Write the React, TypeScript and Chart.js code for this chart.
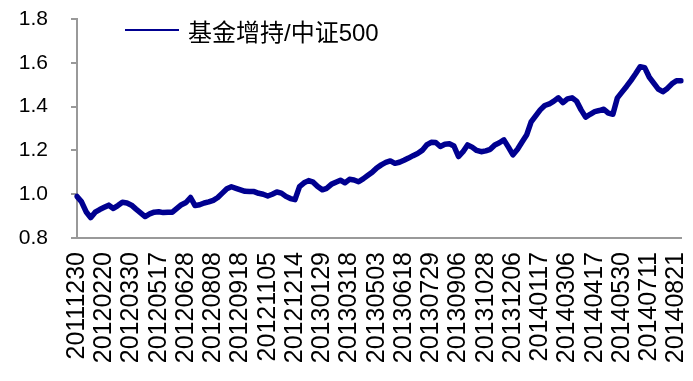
import React, { useEffect, useRef } from "react";
import { Chart, registerables } from "chart.js";

Chart.register(...registerables);

const tickLabels: string[] = [
  "20111230", "20120220", "20120330", "20120517", "20120628", "20120808",
  "20120918", "20121105", "20121214", "20130129", "20130318", "20130503",
  "20130618", "20130729", "20130906", "20131028", "20131206", "20140117",
  "20140306", "20140417", "20140530", "20140711", "20140821",
];

const seriesName = "基金增持/中证500";

// weekly samples (every ~5 trading days), 6 samples between tick labels
const ratioValues: number[] = [
  0.99, 0.965, 0.92, 0.893, 0.918, 0.93, 0.94, 0.95, 0.935, 0.948,
  0.963, 0.96, 0.95, 0.932, 0.915, 0.898, 0.91, 0.918, 0.92, 0.916,
  0.918, 0.918, 0.935, 0.952, 0.962, 0.985, 0.948, 0.952, 0.96, 0.965,
  0.972, 0.985, 1.005, 1.025, 1.034, 1.027, 1.02, 1.013, 1.012, 1.012,
  1.004, 1.0, 0.992, 1.0, 1.01, 1.005, 0.99, 0.98, 0.975, 1.035,
  1.052, 1.062, 1.055, 1.035, 1.02, 1.027, 1.045, 1.055, 1.064, 1.052,
  1.068, 1.065, 1.057, 1.07, 1.085, 1.1, 1.12, 1.134, 1.145, 1.152,
  1.141, 1.146, 1.155, 1.165, 1.176, 1.186, 1.2, 1.225, 1.237, 1.236,
  1.218, 1.228, 1.23, 1.22, 1.172, 1.194, 1.225, 1.215, 1.2, 1.194,
  1.198, 1.205, 1.225, 1.235, 1.248, 1.215, 1.18, 1.205, 1.238, 1.27,
  1.33, 1.358, 1.385, 1.405, 1.412, 1.425, 1.44, 1.418, 1.435, 1.44,
  1.425, 1.385, 1.352, 1.365, 1.377, 1.382, 1.388, 1.37, 1.365, 1.44,
  1.466, 1.492, 1.52, 1.55, 1.582, 1.578, 1.535, 1.507, 1.48, 1.468,
  1.483, 1.504, 1.518, 1.518,
];

const samplesPerTick = 6;
const yMin = 0.8;
const yMax = 1.8;
const yStep = 0.2;

const LINE_COLOR = "#000090";
const AXIS_COLOR = "#999999";
const FONT = "'Liberation Sans', Arial, 'Noto Sans CJK SC', sans-serif";

export default function App() {
  const canvasRef = useRef<HTMLCanvasElement | null>(null);

  useEffect(() => {
    document.body.style.margin = "0";
    const canvas = canvasRef.current;
    if (!canvas) return;
    const labels = ratioValues.map((_, i) =>
      i % samplesPerTick === 0 ? tickLabels[i / samplesPerTick] ?? "" : ""
    );
    const chart = new Chart(canvas, {
      type: "line",
      data: {
        labels,
        datasets: [
          {
            label: seriesName,
            data: ratioValues,
            borderColor: LINE_COLOR,
            backgroundColor: LINE_COLOR,
            borderWidth: 5.5,
            pointRadius: 0,
            tension: 0,
            borderJoinStyle: "round",
            borderCapStyle: "round",
          },
        ],
      },
      options: {
        animation: false,
        responsive: false,
        maintainAspectRatio: false,
        layout: { padding: { top: 19, right: 12, left: 0, bottom: 0 } },
        plugins: {
          legend: { display: false },
          tooltip: { enabled: false },
        },
        scales: {
          x: {
            type: "category",
            offset: false,
            grid: {
              display: true,
              drawOnChartArea: false,
              drawTicks: false,
            },
            border: { display: true, color: AXIS_COLOR, width: 2 },
            ticks: {
              autoSkip: false,
              minRotation: 90,
              maxRotation: 90,
              padding: 14,
              color: "#000",
              font: { family: FONT, size: 25 },
              callback: (_v: any, i: number) => labels[i],
            },
            afterFit: (scale: any) => {
              scale.height = 143;
              scale.paddingLeft = 0;
              scale.paddingRight = 0;
            },
          },
          y: {
            min: yMin,
            max: yMax,
            grid: {
              display: true,
              drawOnChartArea: false,
              drawTicks: true,
              tickLength: 6,
              color: AXIS_COLOR,
              lineWidth: 2,
            },
            border: { display: true, color: AXIS_COLOR, width: 2 },
            ticks: {
              stepSize: yStep,
              padding: 23,
              color: "#000",
              font: { family: FONT, size: 21 },
              callback: (v: any) => Number(v).toFixed(1),
            },
            afterFit: (scale: any) => {
              scale.width = 77;
              scale.paddingTop = 0;
              scale.paddingBottom = 0;
            },
          },
        },
      },
    });
    return () => chart.destroy();
  }, []);

  return (
    <div style={{ position: "relative", width: 693, height: 381, background: "#fff" }}>
      <canvas ref={canvasRef} width={693} height={381} style={{ display: "block" }} />
      <div
        style={{
          position: "absolute",
          left: 125,
          top: 16,
          height: 28,
          display: "flex",
          alignItems: "center",
          fontFamily: FONT,
          fontSize: 24,
          color: "#000",
          whiteSpace: "nowrap",
        }}
      >
        <span
          style={{
            display: "inline-block",
            width: 54,
            height: 2,
            background: LINE_COLOR,
            marginRight: 9,
          }}
        />
        <span>{seriesName}</span>
      </div>
    </div>
  );
}
